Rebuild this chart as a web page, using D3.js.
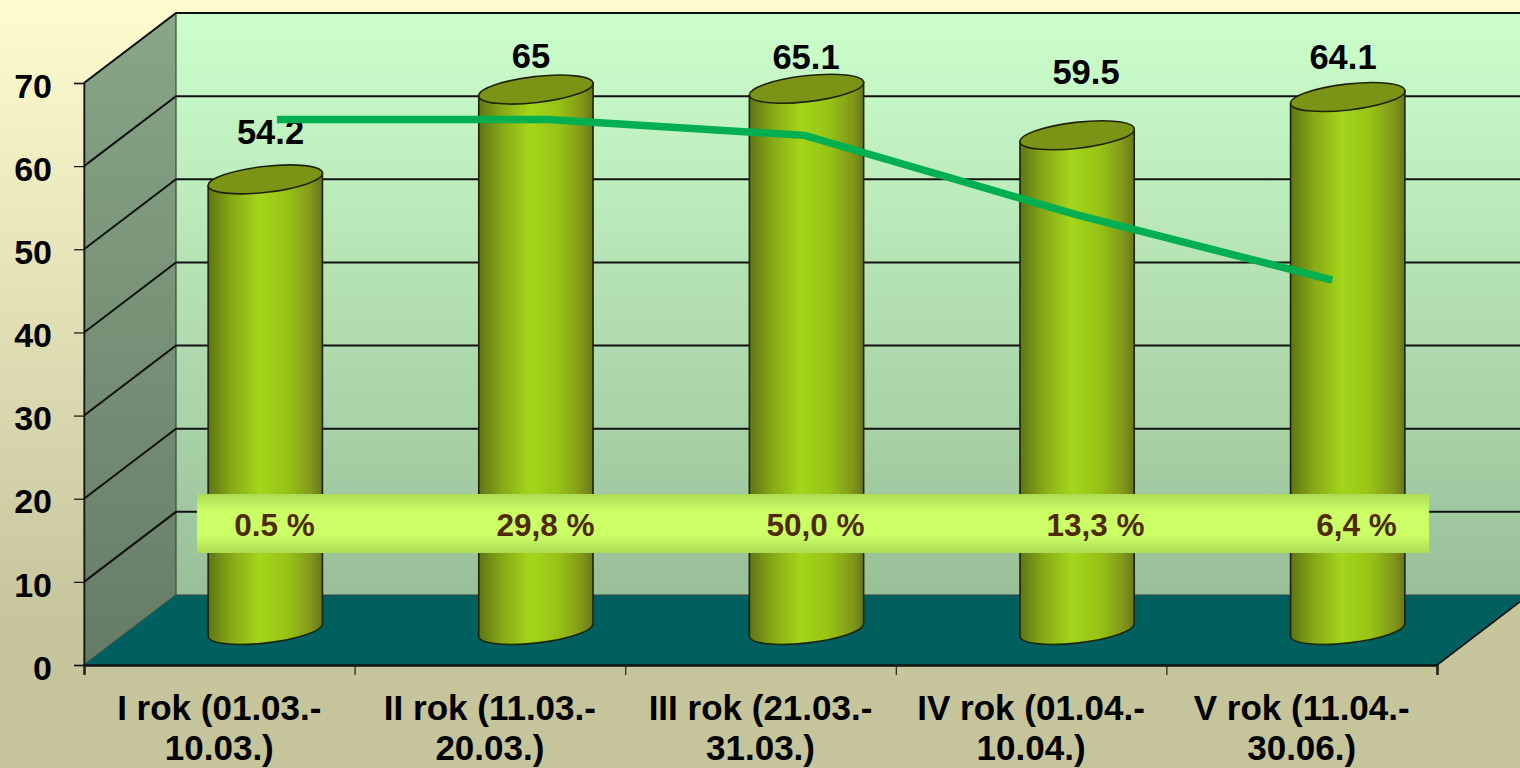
<!DOCTYPE html>
<html><head><meta charset="utf-8">
<script src="https://cdn.jsdelivr.net/npm/d3@7/dist/d3.min.js"></script>
<style>html,body{margin:0;padding:0;overflow:hidden;background:#c5c49b}svg{display:block}text{font-family:"Liberation Sans",Arial,sans-serif;font-weight:700}</style>
</head><body><svg id="c" width="1520" height="768"></svg>
<script>
const categories = [["I rok (01.03.-","10.03.)"],["II rok (11.03.-","20.03.)"],["III rok (21.03.-","31.03.)"],["IV rok (01.04.-","10.04.)"],["V rok (11.04.-","30.06.)"]];
const barValues = [54.2,65,65.1,59.5,64.1];
const barLabels = ["54.2","65","65.1","59.5","64.1"];
const lineValues = [65.6,65.6,63.7,54.1,46.3];
const lineCategoryPos = [0.713,1.713,2.663,3.673,4.613];
const shareLabels = ["0.5 %","29,8 %","50,0 %","13,3 %","6,4 %"];
const yTicks = [0,10,20,30,40,50,60,70];

const svg = d3.select("#c"), defs = svg.append("defs");
function grad(id,stops,h){const g=defs.append("linearGradient").attr("id",id).attr("x1",0).attr("y1",0).attr("x2",h?1:0).attr("y2",h?0:1);
  stops.forEach(s=>g.append("stop").attr("offset",s[0]).attr("stop-color",s[1]));}
grad("bg",[[0,"#fffbcf"],[0.8,"#c6c59c"],[1,"#c5c49b"]]);
grad("wall",[[0,"#ccffcc"],[1,"#99bf99"]]);
grad("side",[[0,"#88a688"],[1,"#667b66"]]);
grad("cyl",[[0,"#5f7414"],[0.2,"#86a816"],[0.45,"#a4d61a"],[0.7,"#97c216"],[0.9,"#82981a"],[1,"#69761c"]],true);
grad("band",[[0,"#aedb55"],[0.3,"#ccff66"],[0.7,"#ccff66"],[1,"#aedb55"]]);

const depth = {dx:92, dy:-70};
const x = d3.scaleBand().domain(d3.range(categories.length)).range([84,1437]);
const xPos = d3.scaleLinear().domain([0,5]).range([84,1437]);
const y = d3.scaleLinear().domain([0,70]).range([665,83]);
const yb = v => y(v)+depth.dy;

svg.append("rect").attr("width",1520).attr("height",768).attr("fill","url(#bg)");
const line = d3.line().x(d=>d[0]).y(d=>d[1]);
const poly = pts => line(pts)+"Z";
// walls
svg.append("rect").attr("x",84+depth.dx).attr("y",yb(70)).attr("width",1400).attr("height",y(0)-y(70)).attr("fill","url(#wall)");
svg.append("path").attr("d",poly([[84,y(70)],[84+depth.dx,yb(70)],[84+depth.dx,yb(0)],[84,y(0)]])).attr("fill","url(#side)").attr("stroke","#3a4a3a").attr("stroke-width",1.2);
svg.append("path").attr("d",poly([[84,y(0)],[84+depth.dx,yb(0)],[1437+depth.dx,yb(0)],[1437,y(0)]])).attr("fill","#006060");
svg.append("path").attr("d",line([[1437,y(0)],[1437+depth.dx,yb(0)]])).attr("stroke","#111").attr("stroke-width",1.6).attr("fill","none");
// grid
yTicks.forEach(t=>{
  if(t>0) svg.append("path").attr("fill","none").attr("stroke","#111").attr("stroke-width",2)
    .attr("d",line([[84,y(t)],[84+depth.dx,yb(t)],[1520,yb(t)]]));
});
svg.append("line").attr("x1",176).attr("x2",1520).attr("y1",yb(0)).attr("y2",yb(0)).attr("stroke","#344").attr("stroke-width",1);
// axes
const ya = svg.append("g").attr("transform","translate(84,0)").call(d3.axisLeft(y).tickValues(yTicks).tickSize(10).tickPadding(8));
ya.select(".domain").attr("stroke","#111").attr("stroke-width",1.5);
ya.selectAll("line").attr("stroke","#111").attr("stroke-width",1.2);
ya.selectAll("text").attr("fill","#000").style("font-size","34px").attr("dy","0.42em").attr("x",-32);
const xa = svg.append("g").attr("transform",`translate(0,${y(0)})`).call(d3.axisBottom(xPos).tickValues(d3.range(6)).tickSize(10).tickFormat(""));
xa.select(".domain").attr("stroke","#111").attr("stroke-width",2.4);
xa.selectAll("line").attr("stroke","#222").attr("stroke-width",1.2);
// cylinders
const bw = x.bandwidth();
const rx=57.5, ry=13, rot=-6.5;
const cx = i => x(i)+bw/2+depth.dx/2;
const cy = v => y(v)+depth.dy/2;
const rad = rot*Math.PI/180;
barValues.forEach((v,i)=>{
  const c=cx(i), t=cy(v), b=cy(0);
  const lx=-rx*Math.cos(rad), ly=-rx*Math.sin(rad);
  const g=svg.append("g");
  g.append("path").attr("fill","url(#cyl)").attr("stroke","#1d2405").attr("stroke-width",1.6)
    .attr("d",`M${c+lx},${t+ly} L${c+lx},${b+ly} A${rx},${ry} ${rot} 0 0 ${c-lx},${b-ly} L${c-lx},${t-ly} Z`);
  g.append("ellipse").attr("cx",c).attr("cy",t).attr("rx",rx).attr("ry",ry)
    .attr("transform",`rotate(${rot} ${c} ${t})`).attr("fill","#7b9415").attr("stroke","#1d2405").attr("stroke-width",1.6);
});
// band
svg.append("rect").attr("x",197).attr("y",494).attr("width",1232).attr("height",59).attr("fill","url(#band)");
const shareX=[274.5,545.5,815.5,1095.5,1356.5];
shareLabels.forEach((s,i)=>svg.append("text").attr("x",shareX[i]).attr("y",525).attr("dy","0.36em").attr("text-anchor","middle").attr("fill","#4f2a00").style("font-size","31.5px").text(s));
// bar labels
const labelPos=[[270.5,132],[531,56],[806,57],[1086,72],[1343,57]];
barLabels.forEach((s,i)=>svg.append("text").attr("x",labelPos[i][0]).attr("y",labelPos[i][1]).attr("dy","0.36em").attr("text-anchor","middle").attr("fill","#000").style("font-size","34.5px").text(s));
// line
svg.append("path").attr("fill","none").attr("stroke","#00b050").attr("stroke-width",7.5)
  .attr("d",line(lineValues.map((v,i)=>[xPos(lineCategoryPos[i]),y(v)])));
// x labels
const xLabelBaselines=[720,760];
categories.forEach((c,i)=>c.forEach((s,j)=>svg.append("text").attr("x",x(i)+bw/2).attr("y",xLabelBaselines[j]).attr("text-anchor","middle").attr("fill","#000").style("font-size","35px").text(s)));
</script></body></html>
